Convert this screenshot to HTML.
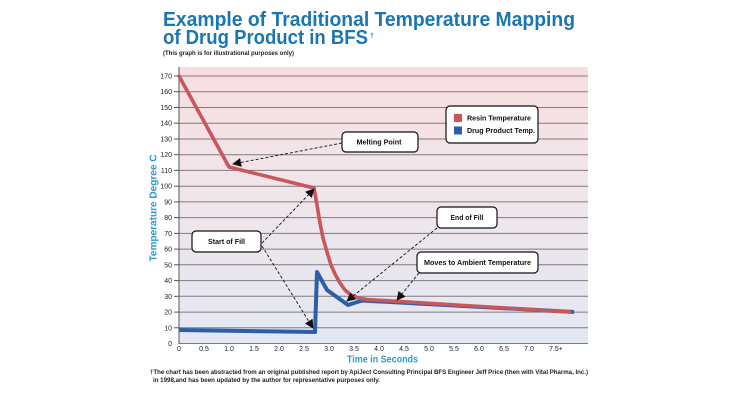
<!DOCTYPE html>
<html><head><meta charset="utf-8"><style>
html,body{margin:0;padding:0;background:#fff;}
svg{display:block;}
text{font-family:"Liberation Sans",Arial,sans-serif;}
</style></head><body>
<svg width="740" height="400" viewBox="0 0 740 400" xmlns="http://www.w3.org/2000/svg">
<defs>
<linearGradient id="bg" x1="0" y1="0" x2="0" y2="1">
<stop offset="0" stop-color="#f8dee0"/>
<stop offset="0.45" stop-color="#f0e6ea"/>
<stop offset="1" stop-color="#e3e7f2"/>
</linearGradient>
<marker id="ah" viewBox="0 0 10 10" refX="9" refY="5" markerWidth="9" markerHeight="9" markerUnits="userSpaceOnUse" orient="auto">
<path d="M0,0 L10,5 L0,10 z" fill="#111"/>
</marker>
</defs>
<rect x="0" y="0" width="740" height="400" fill="#fff"/>
<!-- Title -->
<text x="163" y="26" font-size="20" font-weight="bold" fill="#1a76b3" textLength="412" lengthAdjust="spacingAndGlyphs">Example of Traditional Temperature Mapping</text>
<text x="163" y="44" font-size="20" font-weight="bold" fill="#1a76b3" textLength="205" lengthAdjust="spacingAndGlyphs">of Drug Product in BFS</text>
<text x="370" y="38" font-size="7" font-weight="bold" fill="#1a76b3">†</text>
<text x="163" y="55" font-size="6" font-weight="bold" fill="#222" textLength="131" lengthAdjust="spacingAndGlyphs">(This graph is for illustrational purposes only)</text>

<!-- plot bg -->
<rect x="179" y="67" width="409" height="276.5" fill="url(#bg)"/>
<!-- gridlines -->
<g stroke="#807a82" stroke-width="1">
<line x1="179" x2="588" y1="76" y2="76"/>
<line x1="179" x2="588" y1="91.7" y2="91.7"/>
<line x1="179" x2="588" y1="107.5" y2="107.5"/>
<line x1="179" x2="588" y1="123.2" y2="123.2"/>
<line x1="179" x2="588" y1="139" y2="139"/>
<line x1="179" x2="588" y1="154.7" y2="154.7"/>
<line x1="179" x2="588" y1="170.4" y2="170.4"/>
<line x1="179" x2="588" y1="186.2" y2="186.2"/>
<line x1="179" x2="588" y1="201.9" y2="201.9"/>
<line x1="179" x2="588" y1="217.6" y2="217.6"/>
<line x1="179" x2="588" y1="233.4" y2="233.4"/>
<line x1="179" x2="588" y1="249.1" y2="249.1"/>
<line x1="179" x2="588" y1="264.8" y2="264.8"/>
<line x1="179" x2="588" y1="280.6" y2="280.6"/>
<line x1="179" x2="588" y1="296.3" y2="296.3"/>
<line x1="179" x2="588" y1="312.1" y2="312.1"/>
<line x1="179" x2="588" y1="327.8" y2="327.8"/>
<line x1="179" x2="588" y1="343.5" y2="343.5"/>
</g>
<!-- y axis -->
<g stroke="#555" stroke-width="1">
<line x1="179" x2="179" y1="67" y2="344"/>
<line x1="174" x2="179" y1="76" y2="76"/>
<line x1="174" x2="179" y1="91.7" y2="91.7"/>
<line x1="174" x2="179" y1="107.5" y2="107.5"/>
<line x1="174" x2="179" y1="123.2" y2="123.2"/>
<line x1="174" x2="179" y1="139" y2="139"/>
<line x1="174" x2="179" y1="154.7" y2="154.7"/>
<line x1="174" x2="179" y1="170.4" y2="170.4"/>
<line x1="174" x2="179" y1="186.2" y2="186.2"/>
<line x1="174" x2="179" y1="201.9" y2="201.9"/>
<line x1="174" x2="179" y1="217.6" y2="217.6"/>
<line x1="174" x2="179" y1="233.4" y2="233.4"/>
<line x1="174" x2="179" y1="249.1" y2="249.1"/>
<line x1="174" x2="179" y1="264.8" y2="264.8"/>
<line x1="174" x2="179" y1="280.6" y2="280.6"/>
<line x1="174" x2="179" y1="296.3" y2="296.3"/>
<line x1="174" x2="179" y1="312.1" y2="312.1"/>
<line x1="174" x2="179" y1="327.8" y2="327.8"/>
</g>
<g font-size="7" fill="#222" text-anchor="end">
<text x="172" y="78.5">170</text>
<text x="172" y="94.2">160</text>
<text x="172" y="110">150</text>
<text x="172" y="125.7">140</text>
<text x="172" y="141.5">130</text>
<text x="172" y="157.2">120</text>
<text x="172" y="172.9">110</text>
<text x="172" y="188.7">100</text>
<text x="172" y="204.4">90</text>
<text x="172" y="220.1">80</text>
<text x="172" y="235.9">70</text>
<text x="172" y="251.6">60</text>
<text x="172" y="267.3">50</text>
<text x="172" y="283.1">40</text>
<text x="172" y="298.8">30</text>
<text x="172" y="314.6">20</text>
<text x="172" y="330.3">10</text>
<text x="172" y="346">0</text>
</g>
<g font-size="7" fill="#222" text-anchor="middle">
<text x="179" y="351">0</text>
<text x="204" y="351">0.5</text>
<text x="229" y="351">1.0</text>
<text x="254" y="351">1.5</text>
<text x="279" y="351">2.0</text>
<text x="304" y="351">2.5</text>
<text x="329" y="351">3.0</text>
<text x="354" y="351">3.5</text>
<text x="379" y="351">4.0</text>
<text x="404" y="351">4.5</text>
<text x="429" y="351">5.0</text>
<text x="454" y="351">5.5</text>
<text x="479" y="351">6.0</text>
<text x="504" y="351">6.5</text>
<text x="529" y="351">7.0</text>
<text x="556" y="351">7.5+</text>
</g>
<text x="382.5" y="362.5" font-size="10" font-weight="bold" fill="#2a9bd5" text-anchor="middle" textLength="71" lengthAdjust="spacingAndGlyphs">Time in Seconds</text>
<text transform="translate(156.5,208) rotate(-90)" x="0" y="0" font-size="10" font-weight="bold" fill="#2a9bd5" text-anchor="middle" textLength="107" lengthAdjust="spacingAndGlyphs">Temperature Degree C</text>

<!-- series -->
<polyline fill="none" stroke="#2d5fa8" stroke-width="4" stroke-linejoin="round" points="179,330 315,332 317,272 327,290 348,305 362,300.5 574,312"/>
<polyline fill="none" stroke="#c9565c" stroke-width="3.6" stroke-linejoin="round" stroke-linecap="round" points="179,76 229,167 314,188 317,205 320,223 323,238 327,252 331,265 335,274 340,283 345,290 351,295 358,298 367,299.5 570,312"/>

<!-- arrows -->
<g stroke="#111" stroke-width="0.9" stroke-dasharray="3,2" fill="none" marker-end="url(#ah)">
<line x1="342" y1="143" x2="233" y2="164"/>
<line x1="262" y1="243" x2="314" y2="189"/>
<line x1="262" y1="246" x2="313" y2="328"/>
<line x1="437" y1="228" x2="347" y2="301"/>
<line x1="419" y1="273" x2="397" y2="300"/>
</g>

<!-- boxes -->
<g fill="#fff" stroke="#111" stroke-width="1.2">
<rect x="342" y="132" width="76" height="20" rx="4"/>
<rect x="446" y="106" width="92" height="37" rx="4"/>
<rect x="192" y="231" width="69" height="21" rx="4"/>
<rect x="437" y="207" width="60" height="21" rx="4"/>
<rect x="417" y="252" width="121" height="21" rx="4"/>
</g>
<rect x="454" y="114" width="8" height="8" fill="#c9565c"/>
<rect x="454" y="126.5" width="8" height="8" fill="#2d5fa8"/>
<g font-size="7" font-weight="bold" fill="#111">
<text x="467" y="120.5" textLength="64" lengthAdjust="spacingAndGlyphs">Resin Temperature</text>
<text x="467" y="133" textLength="68" lengthAdjust="spacingAndGlyphs">Drug Product Temp.</text>
<text x="356.5" y="144.5" textLength="45" lengthAdjust="spacingAndGlyphs">Melting Point</text>
<text x="208" y="244" textLength="37" lengthAdjust="spacingAndGlyphs">Start of Fill</text>
<text x="450.5" y="220" textLength="33" lengthAdjust="spacingAndGlyphs">End of Fill</text>
<text x="424" y="265" textLength="107" lengthAdjust="spacingAndGlyphs">Moves to Ambient Temperature</text>
</g>

<!-- footnote -->
<g font-size="6.3" font-weight="bold" fill="#222">
<text x="150" y="374" textLength="438" lengthAdjust="spacingAndGlyphs">†The chart has been abstracted from an original published report by ApiJect Consulting Principal BFS Engineer Jeff Price (then with Vital Pharma, Inc.)</text>
<text x="153" y="382" textLength="227" lengthAdjust="spacingAndGlyphs">in 1998,and has been updated by the author for representative purposes only.</text>
</g>
</svg>
</body></html>
